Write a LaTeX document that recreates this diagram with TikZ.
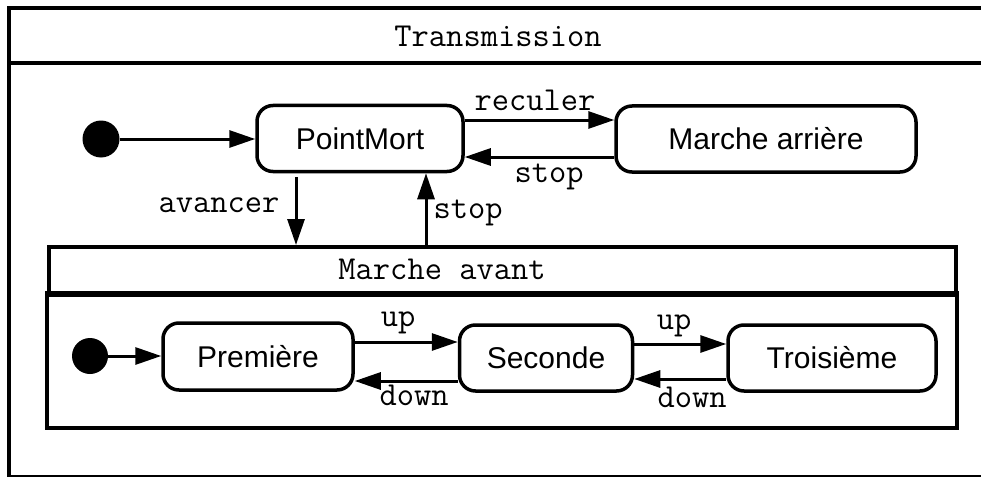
\documentclass[tikz,border=0pt]{standalone}
\usepackage{fontspec}
\setmainfont{Liberation Sans}
\usetikzlibrary{arrows.meta}
\begin{document}
\begin{tikzpicture}[x=1pt,y=-1pt,
  state/.style={draw,line width=3.5pt,rounded corners=16pt,font=\fontsize{30}{36}\selectfont,inner sep=0pt,minimum height=66pt},
  lbl/.style={font=\ttfamily\fontsize{33.5}{40}\selectfont,inner sep=0pt},
  tr/.style={line width=3pt,-{Triangle[length=26pt,width=17pt]}},
  frame/.style={line width=4pt},
  init/.style={circle,fill=black,minimum size=37pt,inner sep=0pt}]
\clip (0,0) rectangle (981,476);
\fill[white] (0,0) rectangle (981,476);
% outer composite state
\draw[frame] (9,8) rectangle (1000,477);
\draw[frame] (9,63) -- (1000,63);
\node[lbl] (ttrans) at (498,36) {Transmission};
% top level states
\node[init] (i1) at (101,139) {};
\node[state,minimum width=206pt] (pm) at (360,138.5) {PointMort};
\node[state,minimum width=300pt] (ma) at (766,139) {Marche arrière};
% Marche avant composite
\node[draw,frame,minimum width=907pt,minimum height=48pt,inner sep=0pt,anchor=north west] (mav) at (47,245) {};
\draw[frame] (47,293) rectangle (957,428);
\node[lbl] (tmav) at (442,269) {Marche avant};
\node[init,minimum size=36pt] (i2) at (90,356) {};
\node[state,minimum width=190pt,minimum height=67pt] (s1) at (258,356.5) {Première};
\node[state,minimum width=173pt] (s2) at (546,358) {Seconde};
\node[state,minimum width=208pt] (s3) at (832,358) {Troisième};
% level coordinates
\coordinate (yrec) at (0,120);
\coordinate (ystop) at (0,157);
\coordinate (xav) at (296,0);
\coordinate (xst) at (426,0);
\coordinate (yup) at (0,342);
\coordinate (ydn) at (0,381);
\coordinate (yup2) at (0,344);
\coordinate (ydn2) at (0,379);
% transitions
\draw[tr] (i1) -- (pm.west |- i1);
\draw[tr] (pm.east |- yrec) -- (ma.west |- yrec);
\draw[tr] (ma.west |- ystop) -- (pm.east |- ystop);
\draw[tr] ([yshift=-4pt]pm.south -| xav) -- (mav.north -| xav);
\draw[tr] (mav.north -| xst) -- (pm.south -| xst);
\draw[tr] (i2) -- (s1.west |- i2);
\draw[tr] (s1.east |- yup) -- (s2.west |- yup);
\draw[tr] (s2.west |- ydn) -- (s1.east |- ydn);
\draw[tr] (s2.east |- yup2) -- (s3.west |- yup2);
\draw[tr] (s3.west |- ydn2) -- (s2.east |- ydn2);
% labels
\node[lbl] (lrec) at (535,100) {reculer};
\node[lbl] (lstop1) at (549,177) {stop};
\node[lbl] (lav) at (219,205) {avancer};
\node[lbl] (lstop2) at (468,213) {stop};
\node[lbl] (lup1) at (398,323) {up};
\node[lbl] (ldn1) at (414,395) {down};
\node[lbl] (lup2) at (674,326) {up};
\node[lbl] (ldn2) at (692,397) {down};
\end{tikzpicture}
\end{document}
